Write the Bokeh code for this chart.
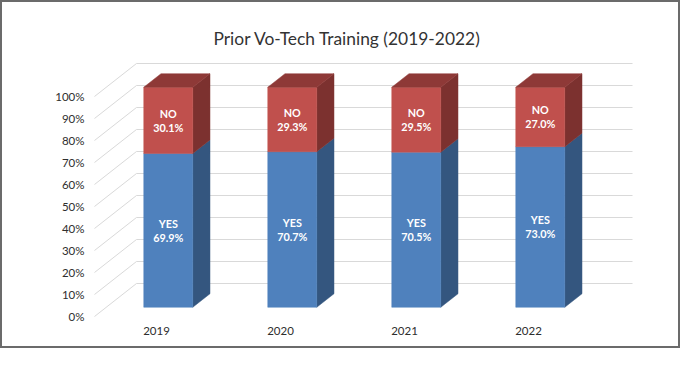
from bokeh.plotting import figure
from bokeh.models import FixedTicker, Range1d, ColumnDataSource
from bokeh.core.properties import value
from bokeh.embed import file_html
from bokeh.resources import INLINE

# ---- data ----
years = ["2019", "2020", "2021", "2022"]
yes_pct = [69.9, 70.7, 70.5, 73.0]
no_pct = [30.1, 29.3, 29.5, 27.0]
yes_word = "YES"
no_word = "NO"
y_ticks = [0, 10, 20, 30, 40, 50, 60, 70, 80, 90, 100]
y_tick_labels = [f"{t}%" for t in y_ticks]
title_text = "Prior Vo-Tech Training (2019-2022)"

# ---- pseudo-3D projection (oblique) ----
UX = 0.3387     # x shift per unit depth (category units)
UY = 15.0       # y shift per unit depth (percent units)
D_FRONT = 0.28  # bar front depth
D_BACK = 0.69   # bar back depth
HALF_W = 0.1976

RED_FRONT, RED_SIDE, RED_TOP = "#C0504D", "#7C312F", "#8E3937"
BLUE_FRONT, BLUE_SIDE = "#4F81BD", "#34567F"
GRID = "#D9D9D9"
FONT = "Lato"

p = figure(width=680, height=348, output_backend="svg", toolbar_location=None,
           x_range=Range1d(-0.5484, 4.2419), y_range=Range1d(-1.818, 117.27),
           min_border_left=86, min_border_right=0, min_border_top=56,
           min_border_bottom=30, tools="")
p.styles = {"border": "2px solid #6b6b6b"}
p.outline_line_color = None
p.xgrid.visible = False
p.ygrid.visible = False
p.background_fill_color = "white"
p.border_fill_color = "white"

# title
p.title.text = title_text
p.title.align = "left"
p.title.offset = 125
p.title.standoff = 19
p.title.text_font = FONT
p.title.text_font_size = "17.4px"
p.title.text_font_style = "normal"
p.title.text_color = "#333333"

# axes
p.yaxis.ticker = FixedTicker(ticks=y_ticks)
p.yaxis.major_label_overrides = {t: l for t, l in zip(y_ticks, y_tick_labels)}
p.xaxis.ticker = FixedTicker(ticks=list(range(len(years))))
p.xaxis.major_label_overrides = {i: y for i, y in enumerate(years)}
for ax in (p.xaxis, p.yaxis):
    ax.axis_line_color = None
    ax.major_tick_line_color = None
    ax.minor_tick_line_color = None
    ax.major_tick_out = 0
    ax.major_label_text_font = FONT
    ax.major_label_text_font_size = "11.5px"
    ax.major_label_text_color = "#2e2e2e"
p.yaxis.major_label_standoff = 4
p.xaxis.major_label_standoff = 6

# grid: back wall + side-wall diagonals
n = len(years)
x0, x1 = -0.5, n - 0.5
gx, gy = [], []
for t in y_ticks:
    gx.append([x0 + UX, x1 + UX]); gy.append([t + UY, t + UY])
    gx.append([x0, x0 + UX]); gy.append([t, t + UY])
p.multi_line(gx, gy, line_color=GRID, line_width=1)

# bars
for i in range(n):
    segs = [(0.0, yes_pct[i], BLUE_FRONT, BLUE_SIDE),
            (yes_pct[i], yes_pct[i] + no_pct[i], RED_FRONT, RED_SIDE)]
    xl, xr = i - HALF_W, i + HALF_W
    for a, b, cf, cs in segs:
        # side face
        p.patch([xr + D_FRONT * UX, xr + D_BACK * UX, xr + D_BACK * UX, xr + D_FRONT * UX],
                [a + D_FRONT * UY, a + D_BACK * UY, b + D_BACK * UY, b + D_FRONT * UY],
                fill_color=cs, line_color=cs, line_width=0.5)
        # front face
        p.patch([xl + D_FRONT * UX, xr + D_FRONT * UX, xr + D_FRONT * UX, xl + D_FRONT * UX],
                [a + D_FRONT * UY, a + D_FRONT * UY, b + D_FRONT * UY, b + D_FRONT * UY],
                fill_color=cf, line_color=cf, line_width=0.5)
    top = yes_pct[i] + no_pct[i]
    p.patch([xl + D_FRONT * UX, xr + D_FRONT * UX, xr + D_BACK * UX, xl + D_BACK * UX],
            [top + D_FRONT * UY, top + D_FRONT * UY, top + D_BACK * UY, top + D_BACK * UY],
            fill_color=RED_TOP, line_color=RED_TOP, line_width=0.5)

# data labels
lx = [i + D_FRONT * UX for i in range(n)]
yes_y = [y / 2 + D_FRONT * UY for y in yes_pct]
no_y = [y + nn / 2 + D_FRONT * UY for y, nn in zip(yes_pct, no_pct)]
src = ColumnDataSource(dict(
    x=lx + lx, y=yes_y + no_y,
    word=[yes_word] * n + [no_word] * n,
    val=[f"{v:.1f}%" for v in yes_pct] + [f"{v:.1f}%" for v in no_pct]))
common = dict(text_font=value(FONT), text_font_style="bold", text_font_size="10.8px",
              text_color="white", text_align="center", text_baseline="middle")
p.text(x="x", y="y", text="word", y_offset=-7, source=src, **common)
p.text(x="x", y="y", text="val", y_offset=7, source=src, **common)

open("out.html", "w").write(file_html(p, INLINE))
